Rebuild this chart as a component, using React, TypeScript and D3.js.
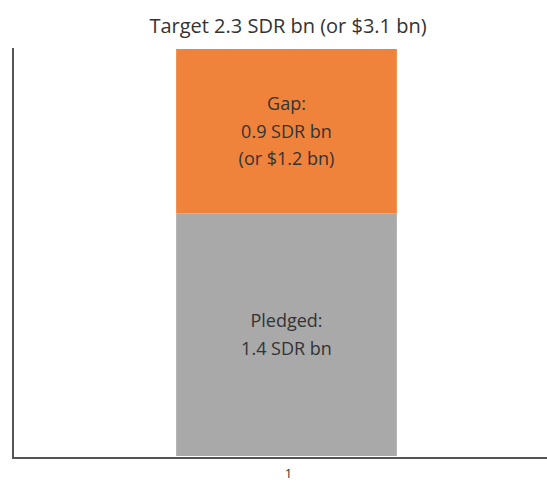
import React from 'react'
import * as d3 from 'd3'

const categories = ['1']
const seriesNames = ['Pledged', 'Gap']
const pledged = [1.37]
const gap = [0.93]
const seriesColors = ['#a9a9a9', '#f0833b']
const segmentLabels = [['Pledged:', '1.4 SDR bn'], ['Gap:', '0.9 SDR bn', '(or $1.2 bn)']]
const title = 'Target 2.3 SDR bn (or $3.1 bn)'
const yMax = 2.3

function App() {
  const width = 547
  const height = 481
  const margin = { top: 48, right: -13, bottom: 24, left: 13 }
  const font = '"Open Sans", "Noto Sans", sans-serif'

  const x = d3.scaleBand<string>()
    .domain(categories)
    .range([margin.left, width - margin.right])
    .padding(0.425)

  const y = d3.scaleLinear()
    .domain([0, yMax])
    .range([height - margin.bottom - 1, margin.top + 1])

  const rows = categories.map((c, i) => ({ cat: c, Pledged: pledged[i], Gap: gap[i] }))
  const stacked = d3.stack<any>().keys(seriesNames)(rows)

  const axisY = height - margin.bottom + 1

  return (
    <svg width={width} height={height} style={{ position: 'absolute', left: 0, top: 0 }}>
      <text x={288} y={33} textAnchor="middle" fontFamily={font} fontSize={20} fill="#333">{title}</text>

      {stacked.map((s, si) => s.map((d, di) => {
        const x0 = x(rows[di].cat)!
        const y0 = y(d[1])
        const y1 = y(d[0])
        const cx = x0 + x.bandwidth() / 2
        const lines = segmentLabels[si]
        const lh = 27.5
        const mid = (y0 + y1) / 2
        return (
          <g key={`${si}-${di}`}>
            <rect x={x0} y={y0} width={x.bandwidth()} height={y1 - y0} fill={seriesColors[si]} />
            {lines.map((t, li) => (
              <text key={li} x={cx} y={mid + (li - (lines.length - 1) / 2) * lh} dy="0.35em"
                textAnchor="middle" fontFamily={font} fontSize={18} fill="#333">{t}</text>
            ))}
          </g>
        )
      }))}

      <line x1={margin.left} x2={margin.left} y1={margin.top} y2={axisY} stroke="#555" strokeWidth={2} />
      <line x1={margin.left - 1} x2={width} y1={axisY} y2={axisY} stroke="#555" strokeWidth={2} />
      {categories.map(c => (
        <text key={c} x={x(c)! + x.bandwidth() / 2 + 2} y={473} dy="0.35em" textAnchor="middle"
          fontFamily={font} fontSize={13} fill="#333">{c}</text>
      ))}
    </svg>
  )
}

export default App
